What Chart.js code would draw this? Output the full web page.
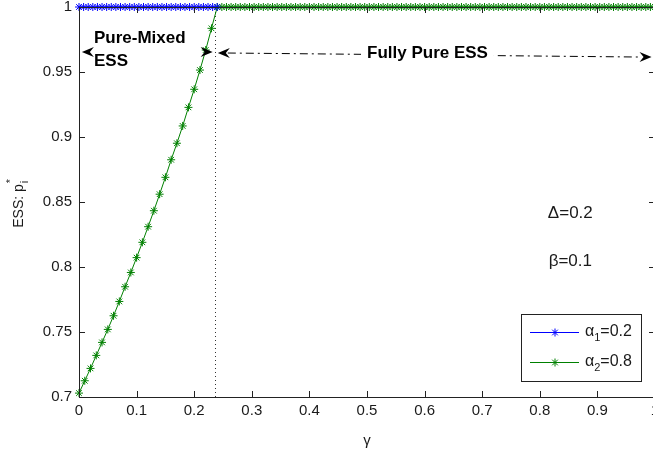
<!DOCTYPE html>
<html>
<head>
<meta charset="utf-8">
<script src="https://cdn.jsdelivr.net/npm/chart.js@4.4.1/dist/chart.umd.min.js"></script>
<style>
    html, body { margin: 0; padding: 0; background: #fff; overflow: hidden; }
    #wrap { width: 660px; height: 450px; }
</style>
</head>
<body>
<div id="wrap"><canvas id="myChart" width="660" height="450"></canvas></div>
<script>
// gamma grid for alpha1 (flat at 1 up to the switch point)
const gammaBlue = [0, 0.008, 0.016, 0.024, 0.032, 0.04, 0.048, 0.056, 0.064, 0.072,
    0.08, 0.088, 0.096, 0.104, 0.112, 0.12, 0.128, 0.136, 0.144, 0.152,
    0.16, 0.168, 0.176, 0.184, 0.192, 0.2, 0.208, 0.216, 0.224, 0.232, 0.24];
const blueP = [1, 1, 1, 1, 1, 1, 1, 1, 1, 1,
    1, 1, 1, 1, 1, 1, 1, 1, 1, 1,
    1, 1, 1, 1, 1, 1, 1, 1, 1, 1, 1];

// alpha2: rising part (mixed ESS)
const gammaRise = [0, 0.01, 0.02, 0.03, 0.04, 0.05, 0.06, 0.07, 0.08, 0.09, 0.1, 0.11,
    0.12, 0.13, 0.14, 0.15, 0.16, 0.17, 0.18, 0.19, 0.2, 0.21, 0.22, 0.23];
const greenRiseP = [0.703, 0.7125, 0.722, 0.732, 0.742, 0.752, 0.7625, 0.7735, 0.7848, 0.7958, 0.8072, 0.819,
    0.831, 0.8433, 0.856, 0.869, 0.8825, 0.8952, 0.9085, 0.9228, 0.9367, 0.9515, 0.9669, 0.9836];

// alpha2: flat part (pure ESS)
const gammaFlat = [0.24, 0.248, 0.256, 0.264, 0.272, 0.28, 0.288, 0.296, 0.304, 0.312,
    0.32, 0.328, 0.336, 0.344, 0.352, 0.36, 0.368, 0.376, 0.384, 0.392,
    0.4, 0.408, 0.416, 0.424, 0.432, 0.44, 0.448, 0.456, 0.464, 0.472,
    0.48, 0.488, 0.496, 0.504, 0.512, 0.52, 0.528, 0.536, 0.544, 0.552,
    0.56, 0.568, 0.576, 0.584, 0.592, 0.6, 0.608, 0.616, 0.624, 0.632,
    0.64, 0.648, 0.656, 0.664, 0.672, 0.68, 0.688, 0.696, 0.704, 0.712,
    0.72, 0.728, 0.736, 0.744, 0.752, 0.76, 0.768, 0.776, 0.784, 0.792,
    0.8, 0.808, 0.816, 0.824, 0.832, 0.84, 0.848, 0.856, 0.864, 0.872,
    0.88, 0.888, 0.896, 0.904, 0.912, 0.92, 0.928, 0.936, 0.944, 0.952,
    0.96, 0.968, 0.976, 0.984, 0.992, 1.0];
const greenFlatP = [1, 1, 1, 1, 1, 1, 1, 1, 1, 1,
    1, 1, 1, 1, 1, 1, 1, 1, 1, 1,
    1, 1, 1, 1, 1, 1, 1, 1, 1, 1,
    1, 1, 1, 1, 1, 1, 1, 1, 1, 1,
    1, 1, 1, 1, 1, 1, 1, 1, 1, 1,
    1, 1, 1, 1, 1, 1, 1, 1, 1, 1,
    1, 1, 1, 1, 1, 1, 1, 1, 1, 1,
    1, 1, 1, 1, 1, 1, 1, 1, 1, 1,
    1, 1, 1, 1, 1, 1, 1, 1, 1, 1,
    1, 1, 1, 1, 1, 1];

// switch point (dotted line)
const gammaSwitch = [0.237, 0.237];
const switchP = [0.7, 1];

const xTicks = [0, 0.1, 0.2, 0.3, 0.4, 0.5, 0.6, 0.7, 0.8, 0.9, 1];
const yTicks = [0.7, 0.75, 0.8, 0.85, 0.9, 0.95, 1];

const FONT = '"Liberation Sans", Arial, sans-serif';
const INK = '#1a1a1a';

function toPoints(xs, ys) {
    return xs.map((x, i) => ({ x: x, y: ys[i] }));
}

function drawArrowHead(ctx, tipX, tipY, dir) {
    // filled arrow head with notched back (vback2 style)
    const len = 12, half = 5, notch = 4;
    ctx.beginPath();
    ctx.moveTo(tipX, tipY);
    ctx.lineTo(tipX + dir * len, tipY - half);
    ctx.lineTo(tipX + dir * (len - notch), tipY);
    ctx.lineTo(tipX + dir * len, tipY + half);
    ctx.closePath();
    ctx.fill();
}

function drawStar(ctx, x, y, r, color) {
    ctx.save();
    ctx.strokeStyle = color;
    ctx.lineWidth = 1;
    ctx.beginPath();
    ctx.moveTo(x - r, y); ctx.lineTo(x + r, y);
    ctx.moveTo(x, y - r); ctx.lineTo(x, y + r);
    const d = r * 0.707;
    ctx.moveTo(x - d, y - d); ctx.lineTo(x + d, y + d);
    ctx.moveTo(x - d, y + d); ctx.lineTo(x + d, y - d);
    ctx.stroke();
    ctx.restore();
}

const decorPlugin = {
    id: 'decor',
    afterDatasetsDraw(chart) {
        const ctx = chart.ctx;
        const area = chart.chartArea;
        const xs = chart.scales.x;
        const ys = chart.scales.y;
        const px = v => xs.getPixelForValue(v);
        const py = v => ys.getPixelForValue(v);

        ctx.save();
        // box and inward ticks
        ctx.strokeStyle = '#222';
        ctx.lineWidth = 1;
        ctx.strokeRect(Math.round(area.left) + 0.5, Math.round(area.top) + 0.5,
            Math.round(area.right - area.left), Math.round(area.bottom - area.top));
        ctx.beginPath();
        xTicks.forEach(t => {
            const x = Math.round(px(t)) + 0.5;
            ctx.moveTo(x, area.bottom); ctx.lineTo(x, area.bottom - 6);
            ctx.moveTo(x, area.top); ctx.lineTo(x, area.top + 6);
        });
        yTicks.forEach(t => {
            const y = Math.round(py(t)) + 0.5;
            ctx.moveTo(area.left, y); ctx.lineTo(area.left + 6, y);
            ctx.moveTo(area.right, y); ctx.lineTo(area.right - 6, y);
        });
        ctx.stroke();

        // y axis title: ESS: p_i^*
        ctx.save();
        ctx.translate(19, 203);
        ctx.rotate(-Math.PI / 2);
        ctx.fillStyle = INK;
        ctx.textBaseline = 'middle';
        ctx.font = '14px ' + FONT;
        const main = 'ESS: p';
        const w = ctx.measureText(main).width;
        const x0 = -(w + 6) / 2;
        ctx.textAlign = 'left';
        ctx.fillText(main, x0, 0);
        ctx.font = '11px ' + FONT;
        ctx.fillText('i', x0 + w + 1, 6);
        ctx.fillText('*', x0 + w + 1, -8);
        ctx.restore();

        // Pure-Mixed ESS annotation
        ctx.fillStyle = '#000';
        drawArrowHead(ctx, px(0.005), py(0.9654), 1);
        drawArrowHead(ctx, px(0.232), py(0.9654), -1);
        ctx.font = 'bold 17px ' + FONT;
        ctx.textAlign = 'left';
        ctx.textBaseline = 'middle';
        ctx.fillText('Pure-Mixed', px(0.026), py(0.976));
        ctx.fillText('ESS', px(0.026), py(0.9585));

        // Fully Pure ESS annotation (dash-dot double arrow)
        const ax1 = px(0.241), ay1 = py(0.9646);
        const ax2 = px(0.994), ay2 = py(0.9615);
        ctx.strokeStyle = '#000';
        ctx.setLineDash([8, 4, 2, 4]);
        ctx.beginPath();
        ctx.moveTo(ax1 + 10, ay1);
        ctx.lineTo(ax2 - 10, ay2);
        ctx.stroke();
        ctx.setLineDash([]);
        drawArrowHead(ctx, ax1, ay1, 1);
        drawArrowHead(ctx, ax2, ay2, -1);
        const label = 'Fully Pure ESS';
        ctx.font = 'bold 17px ' + FONT;
        const lw = ctx.measureText(label).width;
        const lx = px(0.605), ly = py(0.9646);
        ctx.fillStyle = '#fff';
        ctx.fillRect(lx - lw / 2 - 6, ly - 11, lw + 12, 22);
        ctx.fillStyle = '#000';
        ctx.textAlign = 'center';
        ctx.fillText(label, lx, ly);

        // parameter text
        ctx.font = '17px ' + FONT;
        ctx.fillStyle = INK;
        ctx.fillText('\u0394=0.2', px(0.853), py(0.8415));
        ctx.fillText('\u03B2=0.1', px(0.853), py(0.8042));

        // legend box
        ctx.fillStyle = '#fff';
        ctx.fillRect(521, 314, 120, 67);
        ctx.strokeStyle = '#222';
        ctx.strokeRect(521.5, 314.5, 120, 67);
        const entries = [
            { color: '#0000ff', sub: '1', val: '=0.2', y: 332 },
            { color: '#008000', sub: '2', val: '=0.8', y: 362 }
        ];
        entries.forEach(e => {
            ctx.strokeStyle = e.color;
            ctx.lineWidth = 1;
            ctx.beginPath();
            ctx.moveTo(530, e.y + 0.5); ctx.lineTo(579, e.y + 0.5);
            ctx.stroke();
            drawStar(ctx, 555, e.y + 0.5, 4, e.color);
            ctx.fillStyle = INK;
            ctx.textAlign = 'left';
            ctx.textBaseline = 'middle';
            ctx.font = '16px ' + FONT;
            ctx.fillText('\u03B1', 585, e.y);
            const aw = ctx.measureText('\u03B1').width;
            ctx.font = '11px ' + FONT;
            ctx.fillText(e.sub, 585 + aw, e.y + 6);
            const sw = ctx.measureText(e.sub).width;
            ctx.font = '16px ' + FONT;
            ctx.fillText(e.val, 585 + aw + sw, e.y);
        });
        ctx.restore();
    }
};

const ctx = document.getElementById('myChart').getContext('2d');

const myChart = new Chart(ctx, {
    type: 'line',
    data: {
        datasets: [
            {
                label: 'alpha1=0.2',
                data: toPoints(gammaBlue, blueP),
                borderColor: '#0000ff',
                borderWidth: 1,
                pointStyle: 'star',
                pointRadius: 4,
                pointBorderColor: '#0000ff',
                pointBorderWidth: 1,
                fill: false,
                clip: false,
                order: 1
            },
            {
                label: 'alpha2=0.8',
                data: toPoints(gammaRise.concat(gammaFlat), greenRiseP.concat(greenFlatP)),
                borderColor: '#008000',
                borderWidth: 1,
                pointStyle: 'star',
                pointRadius: 4,
                pointBorderColor: '#008000',
                pointBorderWidth: 1,
                fill: false,
                clip: false,
                order: 2
            },
            {
                label: 'switch',
                data: toPoints(gammaSwitch, switchP),
                borderColor: '#333',
                borderWidth: 1,
                borderDash: [1, 3],
                pointRadius: 0,
                fill: false,
                order: 3
            }
        ]
    },
    options: {
        responsive: false,
        animation: false,
        devicePixelRatio: 1,
        layout: {
            padding: { top: 7, right: 5, left: 0, bottom: 0 }
        },
        plugins: {
            legend: { display: false },
            tooltip: { enabled: false }
        },
        scales: {
            x: {
                type: 'linear',
                min: 0,
                max: 1,
                afterFit: function(scale) {
                    scale.height = 53;
                    scale.paddingLeft = 0;
                    scale.paddingRight = 0;
                },
                afterBuildTicks: function(scale) {
                    scale.ticks = xTicks.map(v => ({ value: v }));
                },
                ticks: {
                    color: INK,
                    padding: 5,
                    maxRotation: 0,
                    font: { family: FONT, size: 15 },
                    callback: v => String(v)
                },
                grid: { display: false, drawTicks: false },
                border: { display: false },
                title: {
                    display: true,
                    text: '\u03B3',
                    color: INK,
                    font: { family: FONT, size: 15 },
                    padding: { top: 4, bottom: 0 }
                }
            },
            y: {
                type: 'linear',
                min: 0.7,
                max: 1,
                afterFit: function(scale) {
                    scale.width = 79;
                    scale.paddingTop = 0;
                    scale.paddingBottom = 0;
                },
                afterBuildTicks: function(scale) {
                    scale.ticks = yTicks.map(v => ({ value: v }));
                },
                ticks: {
                    color: INK,
                    padding: 7,
                    font: { family: FONT, size: 15 },
                    callback: v => String(v)
                },
                grid: { display: false, drawTicks: false },
                border: { display: false }
            }
        }
    },
    plugins: [decorPlugin]
});
</script>
</body>
</html>
